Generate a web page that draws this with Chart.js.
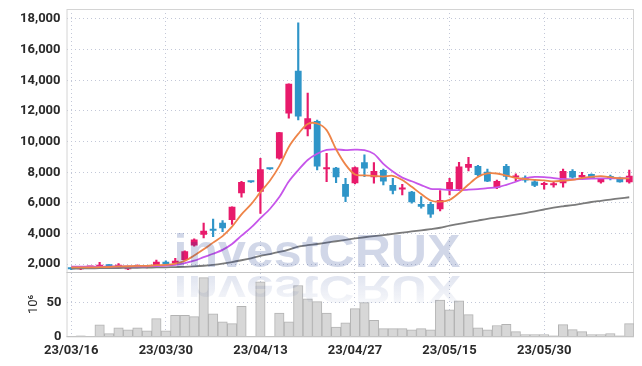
<!DOCTYPE html>
<html>
<head>
<meta charset="utf-8">
<script src="https://cdn.jsdelivr.net/npm/chart.js@4.4.0/dist/chart.umd.min.js"></script>
<style>
  body { margin: 0; background: #fff; }
  #wrap { width: 642px; height: 366px; }
</style>
</head>
<body>
<div id="wrap"><canvas id="stockChart" width="642" height="366"></canvas></div>
<script>
// ---------------------------
// - datos
// ---------------------------
const labels = ['23/03/16','23/03/17','23/03/20','23/03/21','23/03/22','23/03/23','23/03/24','23/03/27','23/03/28','23/03/29',
  '23/03/30','23/03/31','23/04/03','23/04/04','23/04/05','23/04/06','23/04/07','23/04/10','23/04/11','23/04/12',
  '23/04/13','23/04/14','23/04/17','23/04/18','23/04/19','23/04/20','23/04/21','23/04/24','23/04/25','23/04/26',
  '23/04/27','23/04/28','23/05/02','23/05/03','23/05/04','23/05/08','23/05/09','23/05/10','23/05/11','23/05/12',
  '23/05/15','23/05/16','23/05/17','23/05/18','23/05/19','23/05/22','23/05/23','23/05/24','23/05/25','23/05/26',
  '23/05/30','23/05/31','23/06/01','23/06/02','23/06/05','23/06/07','23/06/08','23/06/09','23/06/12','23/06/13'];

const opens = [1740,1670,1780,1790,1900,1830,1670,1800,1780,1950, 2160,2060,2270,3220,3920,4290,4710,4880,6630,7360,
  6730,8210,8890,11830,14620,10810,11350,8200,8300,7240, 7280,8660,7670,8150,7170,6880,6730,5930,5930,5580,
  6850,6910,8300,8410,8040,6990,8410,7660,7650,7390, 7170,7150,7280,8090,7650,7890,7350,7760,7650,7350];
const highs = [1760,1790,1810,2120,1980,2040,1830,1960,1900,2270, 2230,2380,2870,3660,4690,4950,4840,5750,7400,7360,
  8910,8210,10610,13770,17740,13160,11400,9240,8320,7610, 8360,9130,8630,8200,7610,7210,6750,6410,6040,6800,
  7610,8650,8980,8450,8200,7490,8520,7890,7760,7540, 7350,7380,8200,8180,8000,7900,7610,7820,7680,8150];
const lows = [1650,1650,1760,1770,1800,1800,1640,1780,1760,1930, 1990,2030,2250,3180,3720,3790,4120,4600,6370,7340,
  5320,8190,8850,11530,11420,10370,8150,7390,7320,6080, 7240,7710,7280,7170,6580,6520,5980,5650,5060,5470,
  6520,6800,8080,7780,7390,6930,7540,7450,7350,7060, 6890,7030,7020,7610,7560,7610,7280,7500,7350,7280];
const closes = [1680,1770,1800,1970,1870,1960,1820,1920,1880,2160, 2000,2220,2850,3620,4180,4180,4340,5750,7370,7340,
  8200,8190,10610,13770,11630,11530,8370,8260,7670,6400, 8330,8240,8090,7390,6800,6920,6040,5750,5250,6190,
  7370,8370,8540,7820,7390,7430,7710,7750,7470,7120, 7280,7280,8090,7650,7820,7630,7610,7610,7350,7780];

// promedios moviles (naranja, morado, gris)
const ma5 = [1800,1795,1790,1805,1818,1860,1870,1895,1890,1940, 1956,2036,2222,2570,2974,3410,3834,4450,5250,5900,
  6700,7450,8400,9650,10500,11150,11180,10750,9500,8500, 7850,7800,7760,7720,7770,7490,7050,6580,6160,6080,
  6200,6650,7200,7700,7920,7920,7780,7630,7560,7500, 7470,7400,7450,7500,7620,7700,7750,7680,7610,7600];
const ma10 = [1850,1850,1850,1850,1850,1855,1860,1865,1870,1883, 1915,1960,2065,2230,2461,2683,2935,3318,3867,4386,
  5006,5604,6380,7395,8140,8803,9206,9457,9487,9450, 9480,9450,9200,8550,8050,7650,7414,7163,6921,6900,
  6840,6830,6862,6905,6964,7015,7182,7382,7602,7695, 7686,7620,7560,7540,7560,7580,7600,7600,7600,7630];
const maLong = [1720,1725,1730,1740,1750,1755,1760,1770,1780,1790, 1800,1815,1830,1860,1900,1960,2040,2140,2260,2390,
  2540,2660,2800,2960,3150,3240,3320,3410,3500,3590, 3680,3760,3830,3900,3980,4060,4140,4210,4290,4380,
  4520,4630,4740,4850,4960,5050,5140,5240,5340,5450, 5570,5690,5780,5860,5960,6060,6140,6220,6300,6370];

// volumen en millones
const volume = [0.5,0.8,0.6,17,4,12.7,9.8,12.7,8.3,26, 8.3,31,31,29,86,33,21.5,18.6,44,0,
  80,0,34,21.5,74.5,55,51,34,13.7,20, 40.7,49.5,23.5,11.3,11.3,11.3,9.8,11.3,9.8,53,
  39,52,32,12.7,9.8,16,17.6,7,2.5,2.5, 2.5,0.8,17.3,10,7,2.8,2.8,4.2,1,18.8];

// marcas de los ejes
const priceTicks = [2000, 4000, 6000, 8000, 10000, 12000, 14000, 16000, 18000];
const volumeTicks = [0, 50];

// ---------------------------
// - colores
// ---------------------------
const upColor = '#e81a6b';
const downColor = '#2f95c8';
const gridColor = '#c3c8d8';
const textColor = '#2a2a2a';
const candleColors = closes.map((c, i) => c >= opens[i] ? upColor : downColor);

Chart.defaults.font.family = 'Roboto, "Liberation Sans", sans-serif';
Chart.defaults.color = textColor;

// sin relleno extra por las etiquetas de los extremos
const noEdgePadding = s => { s.paddingTop = 0; s.paddingBottom = 0; };

// marco del grafico + separador entre paneles
const framePlugin = {
  id: 'frame',
  beforeDatasetsDraw(chart) {
    const { ctx, chartArea: a } = chart;
    const py = chart.scales.y;
    ctx.save();
    ctx.lineWidth = 1;
    ctx.strokeStyle = '#d4d4d4';
    ctx.strokeRect(a.left + 0.5, a.top + 0.5, a.right - a.left - 1, a.bottom - a.top);
    ctx.strokeStyle = '#c4c4c4';
    ctx.beginPath();
    ctx.moveTo(a.left, Math.round(py.bottom) + 0.5);
    ctx.lineTo(a.right, Math.round(py.bottom) + 0.5);
    ctx.moveTo(a.left, Math.round(a.bottom) + 0.5);
    ctx.lineTo(a.right, Math.round(a.bottom) + 0.5);
    ctx.stroke();
    ctx.restore();
  }
};

// marca de agua con reflejo
const watermarkPlugin = {
  id: 'watermark',
  afterDatasetsDraw(chart) {
    const { ctx, chartArea: a } = chart;
    const py = chart.scales.y;
    const text = 'investCRUX';
    ctx.save();
    ctx.font = 'bold 47px "Liberation Sans", Arial, sans-serif';
    const sx = 287 / ctx.measureText(text).width;
    const x0 = a.left + 107;
    const base = py.bottom - 5;
    ctx.save();
    ctx.translate(x0, base);
    ctx.scale(sx, 1);
    ctx.fillStyle = 'rgba(25,55,140,0.2)';
    ctx.fillText(text, 0, 0);
    ctx.restore();
    ctx.translate(x0, base + 9);
    ctx.scale(sx, -0.82);
    const g = ctx.createLinearGradient(0, 0, 0, -36);
    g.addColorStop(0, 'rgba(25,55,140,0.13)');
    g.addColorStop(1, 'rgba(25,55,140,0.03)');
    ctx.fillStyle = g;
    ctx.fillText(text, 0, 0);
    ctx.restore();
  }
};

const tickFont = { size: 13, weight: 'bold' };

new Chart(document.getElementById('stockChart'), {
  type: 'bar',
  data: {
    labels: labels,
    datasets: [{
      type: 'line', label: 'MA5', data: ma5, yAxisID: 'y',
      borderColor: '#ee8448', borderWidth: 1.8, pointRadius: 0, tension: 0.3, order: 0
    }, {
      type: 'line', label: 'MA10', data: ma10, yAxisID: 'y',
      borderColor: '#c655ea', borderWidth: 1.8, pointRadius: 0, tension: 0.3, order: 0
    }, {
      type: 'line', label: 'MA long', data: maLong, yAxisID: 'y',
      borderColor: '#7b7b7b', borderWidth: 1.8, pointRadius: 0, tension: 0.3, order: 0
    }, {
      label: 'body', data: opens.map((o, i) => [o, closes[i]]), yAxisID: 'y',
      backgroundColor: candleColors, borderWidth: 0, minBarLength: 2,
      barPercentage: 0.72, categoryPercentage: 1, grouped: false, order: 1
    }, {
      label: 'wick', data: lows.map((l, i) => [l, highs[i]]), yAxisID: 'y',
      backgroundColor: candleColors, borderWidth: 0, barThickness: 1.5,
      grouped: false, order: 2
    }, {
      label: 'volume', data: volume, yAxisID: 'yv',
      backgroundColor: '#d7d7d7', borderColor: '#b3b3b3', borderWidth: 1,
      barPercentage: 1, categoryPercentage: 1, grouped: false, order: 3
    }]
  },
  options: {
    responsive: false,
    animation: false,
    layout: { padding: { top: 9, right: 8, bottom: 0, left: 11 } },
    plugins: { legend: { display: false }, tooltip: { enabled: false } },
    scales: {
      x: {
        offset: true,
        grid: { offset: false, color: gridColor, drawTicks: false },
        border: { display: false, dash: [1, 3] },
        ticks: { autoSkip: false, maxRotation: 0, padding: 7, font: tickFont,
          callback: function (v) { return this.getLabelForValue(v); } },
        afterBuildTicks: s => { s.ticks = s.ticks.filter((t, i) => i % 10 === 0); }
      },
      yv: {
        position: 'left', stack: 'panes', stackWeight: 1,
        min: 0, max: 94,
        grid: { color: gridColor, drawTicks: false },
        border: { display: false, dash: [1, 3] },
        ticks: { autoSkip: false, padding: 5, font: tickFont },
        afterBuildTicks: s => { s.ticks = volumeTicks.map(v => ({ value: v })); },
        afterFit: noEdgePadding,
        title: { display: true, text: '10⁶', font: { size: 13 }, padding: { top: 15, bottom: 0 } }
      },
      y: {
        position: 'left', stack: 'panes', stackWeight: 4.1,
        min: 1480, max: 18650,
        grid: { color: gridColor, drawTicks: false },
        border: { display: false, dash: [1, 3] },
        ticks: { autoSkip: false, padding: 6, font: tickFont,
          callback: v => v.toLocaleString('en-US') },
        afterBuildTicks: s => { s.ticks = priceTicks.map(v => ({ value: v })); },
        afterFit: noEdgePadding
      }
    }
  },
  plugins: [framePlugin, watermarkPlugin]
});
</script>
</body>
</html>
